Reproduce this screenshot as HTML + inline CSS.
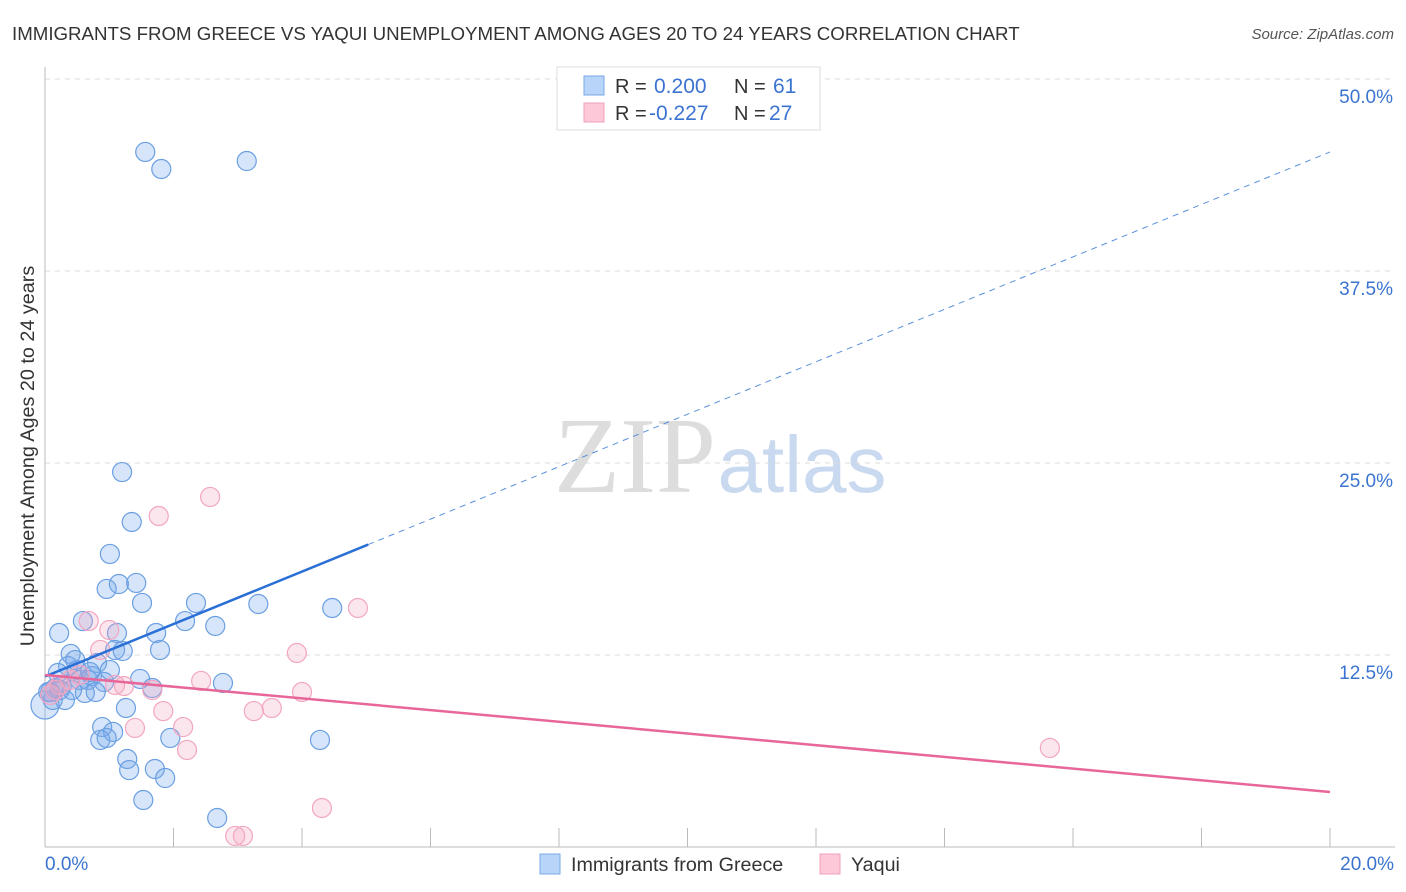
<!DOCTYPE html>
<html><head><meta charset="utf-8"><style>
body{margin:0;background:#fff;font-family:"Liberation Sans",sans-serif;}
svg{display:block}
</style></head><body>
<svg id="chart" width="1406" height="892">
<text x="12" y="40" font-size="18.7" fill="#333">IMMIGRANTS FROM GREECE VS YAQUI UNEMPLOYMENT AMONG AGES 20 TO 24 YEARS CORRELATION CHART</text>
<text x="1394" y="39" font-size="15" fill="#555" font-style="italic" text-anchor="end">Source: ZipAtlas.com</text>
<text x="635" y="492" font-size="108" fill="#ddd" font-family="Liberation Serif,serif" text-anchor="middle">ZIP</text>
<text x="802" y="492" font-size="80" fill="#c9d9f0" text-anchor="middle">atlas</text>
<g id="grid"></g>
<g id="axes"></g>
<g id="pts"></g>
<g id="trend"></g>
<text transform="translate(34,456) rotate(-90)" font-size="19.8" fill="#333" text-anchor="middle">Unemployment Among Ages 20 to 24 years</text>
<text x="45" y="870" font-size="19" fill="#3b74d0">0.0%</text>
<text x="1394" y="870" font-size="19" fill="#3b74d0" text-anchor="end">20.0%</text>
<g>
<rect x="557" y="67" width="263" height="63" fill="#fff" stroke="#ddd"/>
<rect x="584" y="76" width="20" height="19" fill="#b8d4f8" stroke="#7aa8e6"/>
<rect x="584" y="103" width="20" height="19" fill="#fdc8d8" stroke="#f0a0b8"/>
<text x="615" y="93" font-size="20" fill="#333">R =</text>
<text x="654" y="93" font-size="21" fill="#3b74d0">0.200</text>
<text x="734" y="93" font-size="20" fill="#333">N =</text>
<text x="773" y="93" font-size="21" fill="#3b74d0">61</text>
<text x="615" y="120" font-size="20" fill="#333">R =</text>
<text x="649" y="120" font-size="21" fill="#3b74d0">-0.227</text>
<text x="734" y="120" font-size="20" fill="#333">N =</text>
<text x="769" y="120" font-size="21" fill="#3b74d0">27</text>
</g>
<g>
<rect x="540" y="854" width="20" height="20" fill="#b8d4f8" stroke="#7aa8e6"/>
<text x="571" y="871" font-size="19.7" fill="#333">Immigrants from Greece</text>
<rect x="820" y="854" width="20" height="20" fill="#fdc8d8" stroke="#f0a0b8"/>
<text x="851" y="871" font-size="19.7" fill="#333">Yaqui</text>
</g>
</svg>
<script>
const yTicks=[12.5,25,37.5,50];
const yTickLabels=["12.5%","25.0%","37.5%","50.0%"];
const xTicks=[2,4,6,8,10,12,14,16,18,20];
const blueX=[1.56,1.81,3.14,1.20,1.35,1.01,0.96,1.15,1.42,1.51,2.35,3.32,4.47,0.59,2.18,0.22,1.12,1.73,2.65,0.40,1.79,1.09,1.21,0.81,0.36,0.50,0.73,0.54,0.67,0.92,1.48,2.77,1.67,0.16,0.26,0.08,0.0,0.31,0.62,0.79,1.26,0.89,1.06,0.86,0.96,1.95,4.28,1.28,1.31,1.71,1.87,1.53,2.68,0.47,0.70,0.23,0.12,0.05,0.20,1.01,0.42];
const blueY=[45.25,44.14,44.66,24.41,21.16,19.08,16.80,17.12,17.19,15.89,15.89,15.82,15.56,14.71,14.71,13.93,13.93,13.93,14.39,12.57,12.83,12.83,12.76,11.98,11.78,11.52,11.13,10.87,10.87,10.74,10.94,10.68,10.35,10.35,10.48,10.09,9.24,9.57,10.03,10.09,9.05,7.81,7.49,6.97,7.10,7.10,6.97,5.73,5.01,5.08,4.49,3.06,1.89,12.17,11.39,10.22,9.57,10.09,11.33,11.52,10.22];
const pinkX=[2.57,1.77,4.87,0.68,1.00,3.92,0.86,2.43,1.09,1.23,1.67,4.00,1.84,3.25,3.53,2.15,1.40,2.21,4.31,2.96,3.08,15.64,0.23,0.16,0.39,0.54,0.08];
const pinkY=[22.79,21.55,15.56,14.71,14.13,12.63,12.83,10.81,10.55,10.48,10.22,10.09,8.85,8.85,9.05,7.81,7.75,6.32,2.54,0.72,0.72,6.45,10.55,10.22,10.87,11.20,9.90];
const blueTrend=[11.1,45.25];
const pinkTrend=[11.2,3.58];
const blueSolidEnd=5.03;

const X=v=>45+v/20*1285;
const Y=v=>847-v/50*768;
const NS="http://www.w3.org/2000/svg";
function mk(parent,tag,attrs){const e=document.createElementNS(NS,tag);for(const k in attrs)e.setAttribute(k,attrs[k]);document.getElementById(parent).appendChild(e);return e;}
yTicks.forEach((t,i)=>{
 const l=mk('grid','line',{x1:45,x2:1395,y1:Y(t),y2:Y(t),stroke:'#ddd','stroke-dasharray':'5,5'});
 
 
 const tx=mk('grid','text',{x:1393,y:Y(t)+24,'font-size':19,fill:'#3b74d0','text-anchor':'end'});
 tx.textContent=yTickLabels[i];
 
 
});
const ya=mk('axes','line',{x1:45,x2:45,y1:67,y2:847,stroke:'#bbb'});


const xa=mk('axes','line',{x1:45,x2:1395,y1:847,y2:847,stroke:'#bbb'});


xTicks.forEach(t=>{
 const l=mk('axes','line',{x1:X(t),x2:X(t),y1:828,y2:847,stroke:'#bbb'});
 
 
});
blueX.forEach((v,i)=>{
 const c=mk('pts','circle',{cx:X(v),cy:Y(blueY[i]),r:(v===0?14:9.5),fill:'rgba(120,170,235,0.3)',stroke:'#6a9fe2','stroke-width':1.2});
 
 
});
pinkX.forEach((v,i)=>{
 const c=mk('pts','circle',{cx:X(v),cy:Y(pinkY[i]),r:9.5,fill:'rgba(245,165,195,0.28)',stroke:'#f2a6bf','stroke-width':1.2});
 
 
});
const bAt=x=>blueTrend[0]+(blueTrend[1]-blueTrend[0])*x/20;
const b1=mk('trend','line',{x1:X(0),y1:Y(bAt(0)),x2:X(blueSolidEnd),y2:Y(bAt(blueSolidEnd)),stroke:'#2a6fd6','stroke-width':2.5});


const b2=mk('trend','line',{x1:X(blueSolidEnd),y1:Y(bAt(blueSolidEnd)),x2:X(20),y2:Y(bAt(20)),stroke:'#5a90dc','stroke-width':1,'stroke-dasharray':'6,5'});


const p1=mk('trend','line',{x1:X(0),y1:Y(pinkTrend[0]),x2:X(20),y2:Y(pinkTrend[1]),stroke:'#e8679a','stroke-width':2.5});


</script>
</body></html>
